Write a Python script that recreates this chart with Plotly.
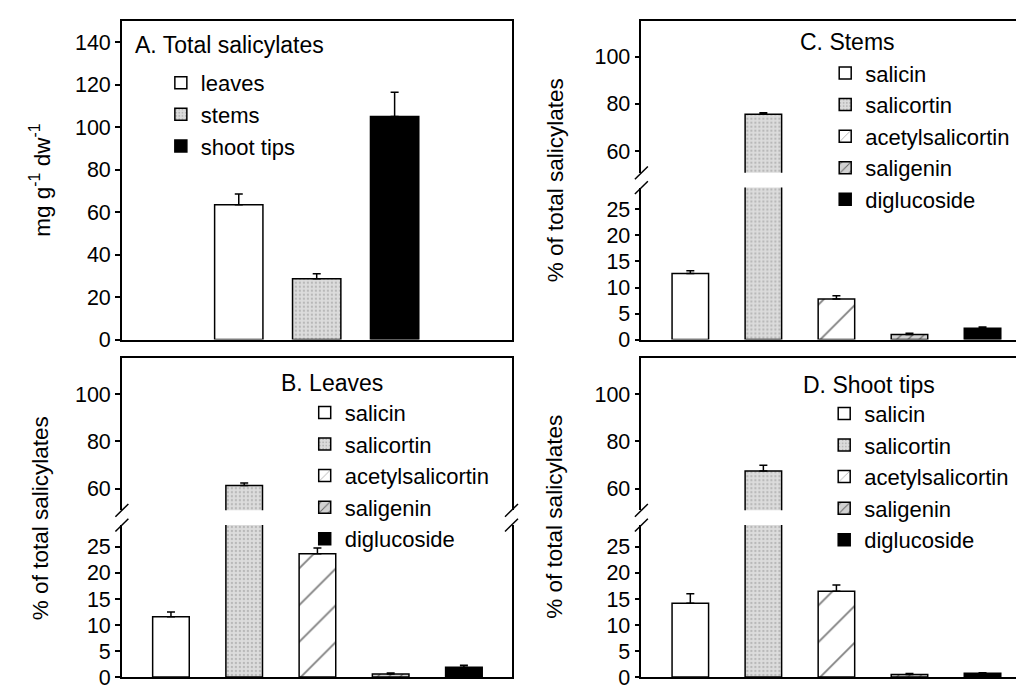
import plotly.graph_objects as go

# ---------------- data ----------------
organs = ["leaves", "stems", "shoot tips"]
total_mean = [63.5, 28.6, 105.0]
total_err = [5.0, 2.4, 11.4]

compounds = ["salicin", "salicortin", "acetylsalicortin", "saligenin", "diglucoside"]
leaves_pct = [11.6, 61.4, 23.7, 0.6, 1.9]
leaves_err = [0.9, 1.0, 1.1, 0.2, 0.4]
stems_pct = [12.7, 75.6, 7.8, 1.0, 2.2]
stems_err = [0.5, 0.7, 0.6, 0.2, 0.2]
tips_pct = [14.2, 67.5, 16.5, 0.5, 0.75]
tips_err = [1.8, 2.4, 1.2, 0.2, 0.1]

panel_titles = ["A. Total salicylates", "B. Leaves", "C. Stems", "D. Shoot tips"]
y_title_total = "mg g<sup>-1</sup> dw<sup>-1</sup>"
y_title_pct = "% of total salicylates"

# ---------------- styles ----------------
FONT = "Liberation Sans, Arial, Helvetica, sans-serif"
W, H = 1024, 688
LINE = dict(color="black", width=1.5)


def fx(px):
    return px / W


def fy(px):
    return 1 - px / H


def gray_fill():
    return dict(color="#d2d2d2",
                pattern=dict(shape=".", fgcolor="#8f8f8f", bgcolor="#dcdcdc", size=4, solidity=0.25))


organ_markers = [
    dict(color="white", line=LINE),
    dict(**gray_fill(), line=LINE),
    dict(color="black", line=LINE),
]

compound_markers = [
    dict(color="white", line=LINE),
    dict(**gray_fill(), line=LINE),
    dict(color="white", line=LINE,
         pattern=dict(shape="/", fgcolor="black", bgcolor="white", size=26, solidity=0.07)),
    dict(color="#d2d2d2", line=LINE,
         pattern=dict(shape="/", fgcolor="black", bgcolor="#d2d2d2", size=8, solidity=0.15)),
    dict(color="black", line=LINE),
]


def err(arr):
    return dict(type="data", array=arr, arrayminus=[0] * len(arr), symmetric=False,
                color="black", thickness=1.5, width=4, visible=True)


fig = go.Figure()

# ---------------- panel A ----------------
for i, organ in enumerate(organs):
    fig.add_trace(go.Bar(
        x=[organ], y=[total_mean[i]], error_y=err([total_err[i]]),
        marker=organ_markers[i], width=0.62, name=organ,
        xaxis="x", yaxis="y", legend="legend",
    ))

# ---------------- broken panels ----------------
panels = [
    (leaves_pct, leaves_err, "x2", "y2", "x3", "y3", "legend2"),
    (stems_pct, stems_err, "x4", "y4", "x5", "y5", "legend3"),
    (tips_pct, tips_err, "x6", "y6", "x7", "y7", "legend4"),
]
for vals, errs, xu, yu, xl, yl, leg in panels:
    for j, comp in enumerate(compounds):
        for xa, ya, show in ((xu, yu, True), (xl, yl, False)):
            fig.add_trace(go.Bar(
                x=[comp], y=[vals[j]], error_y=err([errs[j]]),
                marker=compound_markers[j], width=0.5, name=comp,
                xaxis=xa, yaxis=ya, legend=leg, showlegend=show,
            ))

# ---------------- axes ----------------
base = dict(showline=True, linecolor="black", linewidth=1.5, showgrid=False, zeroline=False)
tickfont = dict(family=FONT, size=21.5, color="black")
xbase = dict(base, type="category", showticklabels=False, ticks="")
ybase = dict(base, ticks="outside", ticklen=5, tickwidth=1.5, tickcolor="black",
             mirror=True, tickfont=tickfont)

LEFT = (114, 504)
RIGHT = (634, 1023)
TOP = (13, 338)
BOT = (357, 682)
UP_H = 155
GAP = 15

layout = dict(
    width=W, height=H, autosize=False,
    margin=dict(l=0, r=0, t=0, b=0),
    paper_bgcolor="white", plot_bgcolor="rgba(0,0,0,0)",
    barmode="overlay",
    font=dict(family=FONT, size=22, color="black"),
)

# panel A
layout["xaxis"] = dict(xbase, domain=[fx(LEFT[0]), fx(LEFT[1])], anchor="y", mirror=True,
                       categoryorder="array", categoryarray=organs, range=[-1.5, 3.5])
layout["yaxis"] = dict(ybase, domain=[fy(TOP[1]), fy(TOP[0])], anchor="x",
                       range=[0, 150], tickvals=[0, 20, 40, 60, 80, 100, 120, 140])

broken = [
    (LEFT, BOT, 2),
    (RIGHT, TOP, 4),
    (RIGHT, BOT, 6),
]
shapes = []
for (xl_px, xr_px), (t_px, b_px), k in broken:
    up_bot = t_px + UP_H
    lo_top = up_bot + GAP
    xd = [fx(xl_px), fx(xr_px)]
    layout[f"xaxis{k}"] = dict(xbase, domain=xd, anchor=f"y{k}", side="top",
                               categoryorder="array", categoryarray=compounds,
                               range=[-0.67, 4.65])
    layout[f"xaxis{k+1}"] = dict(xbase, domain=xd, anchor=f"y{k+1}", side="bottom",
                                 matches=f"x{k}", categoryorder="array", categoryarray=compounds)
    layout[f"yaxis{k}"] = dict(ybase, domain=[fy(up_bot), fy(t_px)], anchor=f"x{k}",
                               range=[50.9, 115.1], tickvals=[60, 80, 100])
    layout[f"yaxis{k+1}"] = dict(ybase, domain=[fy(b_px), fy(lo_top)], anchor=f"x{k+1}",
                                 range=[0, 29.2], tickvals=[0, 5, 10, 15, 20, 25])
    for xe in (xl_px, xr_px):
        for ye in (up_bot, lo_top):
            shapes.append(dict(type="line", xref="paper", yref="paper",
                               x0=fx(xe - 6.5), y0=fy(ye + 6.5), x1=fx(xe + 6.5), y1=fy(ye - 6.5),
                               line=dict(color="black", width=1.5)))
layout["shapes"] = shapes

# legends
legfont = dict(family=FONT, size=22, color="black")
legbase = dict(xanchor="left", yanchor="top", bgcolor="rgba(0,0,0,0)", borderwidth=0,
               font=legfont, tracegroupgap=0, traceorder="normal", itemwidth=30)
layout["legend"] = dict(legbase, x=fx(153), y=fy(55))
layout["legend2"] = dict(legbase, x=fx(297), y=fy(391))
layout["legend3"] = dict(legbase, x=fx(818), y=fy(45))
layout["legend4"] = dict(legbase, x=fx(817), y=fy(392))

# annotations: panel labels and axis titles
ann = []
label_pos = [(125, 38), (271, 382), (791, 35), (794, 384)]
for txt, (px, py) in zip(panel_titles, label_pos):
    ann.append(dict(text=txt, x=fx(px), y=fy(py), xref="paper", yref="paper",
                    xanchor="left", yanchor="middle", showarrow=False,
                    font=dict(family=FONT, size=23, color="black")))
ytitles = [(y_title_total, 32, 175), (y_title_pct, 32, 520), (y_title_pct, 548, 175), (y_title_pct, 547, 518)]
for txt, px, py in ytitles:
    ann.append(dict(text=txt, x=fx(px), y=fy(py), xref="paper", yref="paper",
                    xanchor="center", yanchor="middle", textangle=-90, showarrow=False,
                    font=dict(family=FONT, size=22.5, color="black")))
layout["annotations"] = ann

fig.update_layout(**layout)
fig.write_html("out.html")
